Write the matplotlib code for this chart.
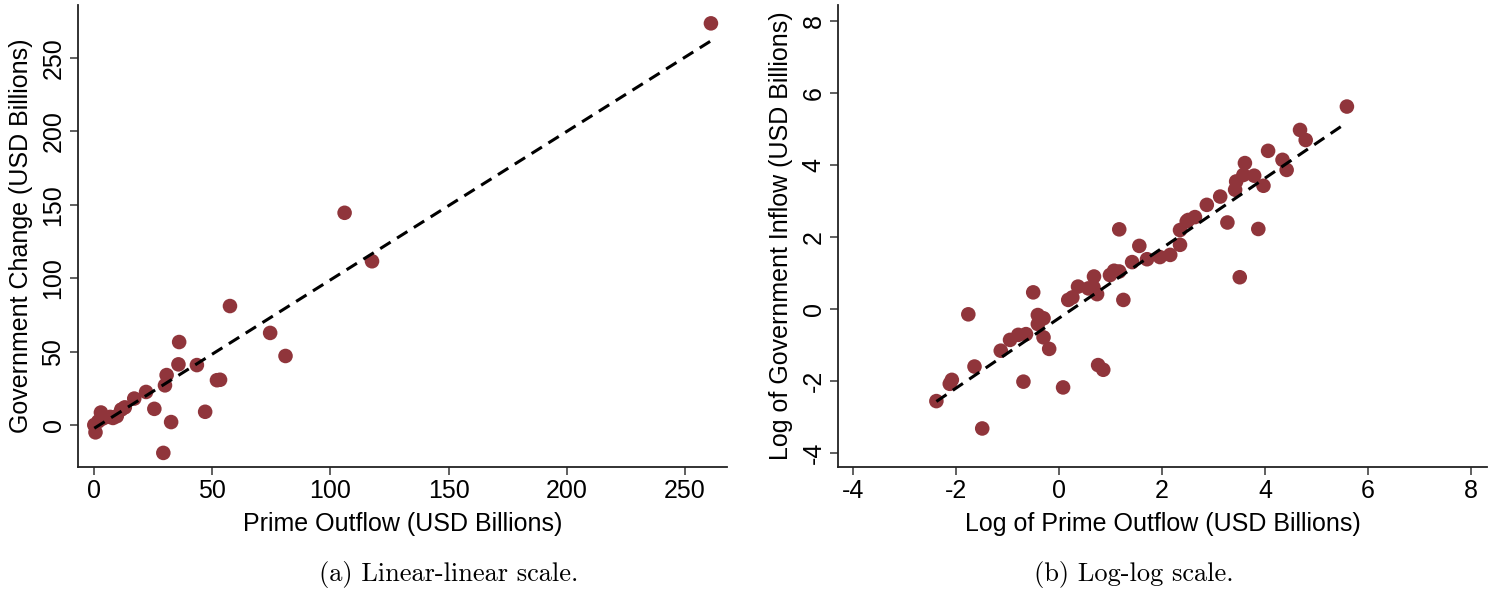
"""
Scatter of government fund inflows against prime fund outflows,
on a linear scale (a) and a log-log scale (b), each with a fitted line.
"""
import matplotlib
matplotlib.use('Agg')
from matplotlib import pyplot as plt

plt.rcParams['axes.unicode_minus'] = False

# panel (a): linear-linear, USD billions
prime_outflow = [0.1, 0.6, 1.8, 2.9, 3.8, 6.8, 8.0, 9.6, 11.5, 13.0, 17.0,
                 22.0, 25.5, 29.3, 30.0, 30.7, 32.6, 35.7, 36.0, 43.5, 47.0,
                 52.0, 53.3, 57.5, 74.5, 81.0, 106.0, 117.6, 261.0]
government_change = [0.0, -5.0, 2.5, 8.5, 4.5, 5.5, 4.8, 6.0, 10.5, 12.0, 18.0,
                     22.5, 11.0, -19.0, 27.0, 34.0, 2.0, 41.3, 56.5, 40.8, 9.0,
                     30.5, 30.8, 81.0, 62.7, 47.0, 144.5, 111.5, 273.5]
lin_slope, lin_intercept = 1.011, -2.3

# panel (b): log-log
log_prime = [-2.38, -2.08, -2.12, -1.49, -1.76, -1.64, -1.13, -0.95, -0.79,
             -0.64, -0.69, -0.50, -0.41, -0.30, -0.41, -0.30, -0.19, 0.08,
             0.18, 0.26, 0.37, 0.57, 0.68, 0.67, 0.74, 0.76, 0.86, 0.99,
             1.07, 1.17, 1.17, 1.25, 1.42, 1.56, 1.71, 1.96, 2.16, 2.35,
             2.35, 2.51, 2.64, 2.48, 2.87, 3.13, 3.27, 3.51, 3.42, 3.44,
             3.61, 3.58, 3.79, 3.97, 3.87, 4.06, 4.34, 4.42, 4.68, 4.79, 5.59]
log_government = [-2.56, -1.97, -2.08, -3.32, -0.15, -1.60, -1.16, -0.86, -0.72,
                  -0.70, -2.02, 0.46, -0.17, -0.26, -0.42, -0.79, -1.11, -2.18,
                  0.25, 0.32, 0.62, 0.57, 0.90, 0.60, 0.41, -1.56, -1.69, 0.94,
                  1.06, 1.04, 2.21, 0.25, 1.30, 1.75, 1.38, 1.44, 1.50, 1.78,
                  2.19, 2.47, 2.55, 2.43, 2.89, 3.12, 2.40, 0.88, 3.31, 3.54,
                  4.05, 3.72, 3.70, 3.42, 2.22, 4.39, 4.14, 3.86, 4.97, 4.69, 5.62]
log_slope, log_intercept = 0.972, -0.257

DOT = "#90353B"
FONT = ['Liberation Sans', 'DejaVu Sans']
SIZE = 18


def style_axes(ax):
    """Stata-like axes: only left and bottom spines, outward ticks."""
    ax.spines['top'].set_visible(False)
    ax.spines['right'].set_visible(False)
    for side in ('left', 'bottom'):
        ax.spines[side].set_linewidth(1.3)
        ax.spines[side].set_color('#222222')
    ax.tick_params(direction='out', length=6, width=1.2, color='#444444',
                   labelsize=SIZE, pad=3)
    for lab in ax.get_xticklabels():
        lab.set_family(FONT)
    for lab in ax.get_yticklabels():
        lab.set_family(FONT)
        lab.set_rotation(90)
        lab.set_va('center')


def draw_panel(ax, xs, ys, slope, intercept):
    ax.scatter(xs, ys, s=110, color=DOT, edgecolors='none', zorder=3)
    x0, x1 = min(xs), max(xs)
    ax.plot([x0, x1], [intercept + slope * x0, intercept + slope * x1],
            color='black', linestyle=(0, (4, 2.5)), linewidth=2.2, zorder=4)


def plot_panels():
    fig = plt.figure(figsize=(15.01, 5.9), dpi=100)
    W, H = 1501, 590

    ax1 = fig.add_axes([78 / W, 1 - 467 / H, (727 - 78) / W, (467 - 5) / H])
    draw_panel(ax1, prime_outflow, government_change, lin_slope, lin_intercept)
    ax1.set_xlim(-6.8, 267.8)
    ax1.set_ylim(-28.6, 286)
    ax1.set_xticks([0, 50, 100, 150, 200, 250])
    ax1.set_yticks([0, 50, 100, 150, 200, 250])
    style_axes(ax1)
    ax1.set_xlabel("Prime Outflow (USD Billions)", fontsize=SIZE, family=FONT,
                   labelpad=6)
    ax1.set_ylabel("Government Change (USD Billions)", fontsize=SIZE,
                   family=FONT, labelpad=6)

    ax2 = fig.add_axes([838 / W, 1 - 467 / H, (1487 - 838) / W, (467 - 5) / H])
    draw_panel(ax2, log_prime, log_government, log_slope, log_intercept)
    ax2.set_xlim(-4.29, 8.31)
    ax2.set_ylim(-4.39, 8.44)
    ax2.set_xticks([-4, -2, 0, 2, 4, 6, 8])
    ax2.set_yticks([-4, -2, 0, 2, 4, 6, 8])
    style_axes(ax2)
    ax2.set_xlabel("Log of Prime Outflow (USD Billions)", fontsize=SIZE,
                   family=FONT, labelpad=6)
    ax2.set_ylabel("Log of Government Inflow (USD Billions)", fontsize=SIZE,
                   family=FONT, labelpad=6)

    fig.text(449 / W, 1 - 575 / H, "(a) Linear-linear scale.", ha='center',
             va='center', fontsize=19, family=['cmr10', 'DejaVu Serif'])
    fig.text(1134 / W, 1 - 575 / H, "(b) Log-log scale.", ha='center',
             va='center', fontsize=19, family=['cmr10', 'DejaVu Serif'])

    fig.savefig("out.png", dpi=100)


if __name__ == "__main__":
    plot_panels()
